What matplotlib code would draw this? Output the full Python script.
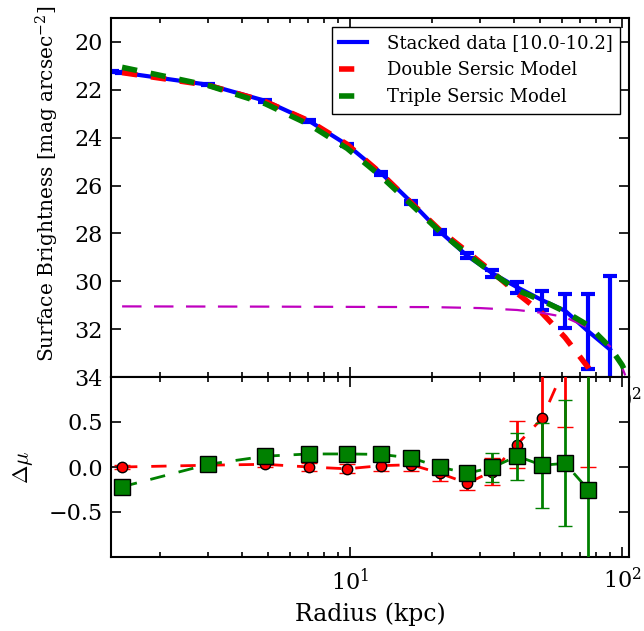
import matplotlib
matplotlib.use("Agg")
import matplotlib.pyplot as plt
import numpy as np

plt.rcParams['font.family'] = ['DejaVu Serif']
plt.rcParams['mathtext.fontset'] = 'cm'
plt.rcParams['lines.scale_dashes'] = False

# ---------------- data ----------------
# stacked data profile
r_data = [1.33, 1.45, 3.01, 4.87, 7.06, 9.75, 13.0, 16.8, 21.4, 26.9, 33.3, 41.1, 50.8, 61.7, 75.0, 90.2]
mu_data = [21.25, 21.28, 21.79, 22.46, 23.30, 24.30, 25.48, 26.70, 27.93, 28.93, 29.66, 30.25, 30.79, 31.23, 32.09, 32.85]
mu_err = [0.02, 0.02, 0.02, 0.03, 0.04, 0.05, 0.06, 0.07, 0.08, 0.10, 0.15, 0.23, 0.40, 0.71, 1.57, 3.05]

# double sersic model
r_double = [1.45, 3.01, 4.87, 7.06, 9.75, 13.0, 16.8, 21.4, 26.9, 33.3, 41.1, 50.8, 61.7, 75.0, 90.2]
mu_double = [21.28, 21.81, 22.49, 23.30, 24.28, 25.50, 26.73, 27.87, 28.76, 29.61, 30.50, 31.33, 32.35, 33.60, 35.20]

# triple sersic model
r_triple = [1.45, 3.01, 4.87, 7.06, 9.75, 13.0, 16.8, 21.4, 26.9, 33.3, 41.1, 50.8, 61.7, 75.0, 90.2, 100.0, 110.0]
mu_triple = [21.06, 21.82, 22.58, 23.45, 24.45, 25.62, 26.80, 27.93, 28.86, 29.66, 30.37, 30.81, 31.27, 31.84, 32.75, 33.50, 34.50]

# outer component
r_outer = [1.45, 5.0, 10.0, 20.0, 30.0, 41.1, 50.8, 61.7, 75.0, 90.2, 100.0, 110.0]
mu_outer = [31.05, 31.06, 31.07, 31.08, 31.12, 31.20, 31.32, 31.50, 31.94, 32.72, 33.60, 34.80]

# residuals
r_res = [1.45, 3.01, 4.87, 7.06, 9.75, 13.0, 16.8, 21.4, 26.9, 33.3, 41.1, 50.8, 61.7, 75.0]
res_double = [0.0, 0.02, 0.03, 0.0, -0.02, 0.015, 0.025, -0.07, -0.18, -0.05, 0.25, 0.54, 1.12, 1.50]
err_double = [0.02, 0.02, 0.03, 0.04, 0.05, 0.06, 0.07, 0.08, 0.07, 0.155, 0.26, 0.55, 0.68, 1.50]
res_triple = [-0.22, 0.03, 0.12, 0.145, 0.145, 0.14, 0.10, 0.0, -0.07, -0.005, 0.12, 0.02, 0.04, -0.25]
err_triple = [0.02, 0.02, 0.03, 0.04, 0.05, 0.06, 0.07, 0.08, 0.07, 0.16, 0.26, 0.47, 0.70, 1.60]

legend_labels = ["Stacked data [10.0-10.2]", "Double Sersic Model", "Triple Sersic Model"]

# ---------------- figure ----------------
fig = plt.figure(figsize=(6.44, 6.31), dpi=100)
L, R = 111/644, 629/644
ax1 = fig.add_axes([L, 1-377/631, R-L, (377-18)/631])
ax2 = fig.add_axes([L, 1-557/631, R-L, (557-377)/631], sharex=ax1)

ax1.plot(r_data, mu_data, color='b', lw=3, label=legend_labels[0], zorder=2)
ax1.errorbar(r_data, mu_data, yerr=mu_err, fmt='none', ecolor='b', elinewidth=3,
             capsize=5, capthick=3, zorder=2)
ax1.plot(r_double, mu_double, color='r', lw=4, dashes=(11, 10), label=legend_labels[1], zorder=3)
ax1.plot(r_triple, mu_triple, color='g', lw=4, dashes=(11, 10), label=legend_labels[2], zorder=4)
ax1.plot(r_outer, mu_outer, color='m', lw=1.6, dashes=(14, 9), zorder=3)

ax1.set_xscale('log')
ax1.set_xlim(1.32, 106)
ax1.set_ylim(34, 19)
ax1.set_yticks([20, 22, 24, 26, 28, 30, 32, 34])
ylab = ax1.set_ylabel(r'Surface Brightness $[\mathrm{mag\ arcsec^{-2}}]$', fontsize=14.5)
ylab.set_math_fontfamily('dejavuserif')
ax1.yaxis.set_label_coords(-0.097, 0.539)
leg = ax1.legend(loc='upper right', fontsize=13, fancybox=False, framealpha=1,
                 edgecolor='black', borderaxespad=0.5, handlelength=1.55,
                 handletextpad=1.1)
leg.get_frame().set_linewidth(1.0)

ax2.errorbar(r_res, res_double, yerr=err_double, color='r', lw=2, dashes=(11, 10),
             marker='o', ms=7.5, mfc='r', mec='k', mew=1, ecolor='r', elinewidth=2,
             capsize=6, capthick=1.5, zorder=3)
ax2.errorbar(r_res, res_triple, yerr=err_triple, color='g', lw=2, dashes=(11, 10),
             marker='s', ms=11, mfc='g', mec='k', mew=1, ecolor='g', elinewidth=2,
             capsize=5, capthick=1.5, zorder=4)
ax2.set_ylim(-1, 1)
ax2.set_yticks([-0.5, 0.0, 0.5])
ax2.set_ylabel(r'$\Delta\mu$', fontsize=16)
ax2.yaxis.set_label_coords(-0.147, 0.5)
ax2.set_xlabel('Radius (kpc)', fontsize=17, labelpad=6)

for ax in (ax1, ax2):
    ax.tick_params(which='both', direction='in', top=True, right=True, labelsize=16, width=1.2)
    ax.tick_params(which='major', length=7.5)
    ax.tick_params(which='minor', length=3.5)
    ax.tick_params(axis='y', pad=6)
    ax.tick_params(axis='x', pad=8)
    for s in ax.spines.values():
        s.set_linewidth(1.5)
ax2.set_facecolor('white')

fig.savefig('out.png', dpi=100)
